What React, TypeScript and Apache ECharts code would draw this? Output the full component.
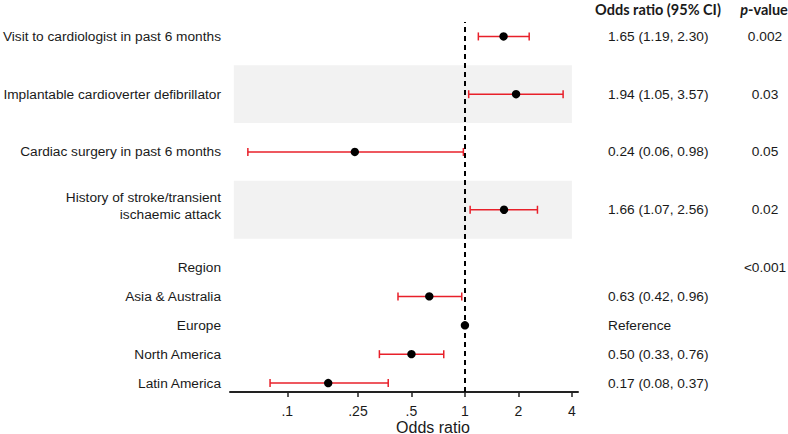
import React, { useEffect, useRef } from "react";
import * as echarts from "echarts";

// ---- data ----
const ROW_LABELS = [
  "Visit to cardiologist in past 6 months",
  "Implantable cardioverter defibrillator",
  "Cardiac surgery in past 6 months",
  "History of stroke/transient\nischaemic attack",
  "Region",
  "Asia & Australia",
  "Europe",
  "North America",
  "Latin America",
];
const ROW_POS = [13, 11, 9, 7, 5, 4, 3, 2, 1];
const ODDS = [1.65, 1.94, 0.24, 1.66, null, 0.63, 1, 0.5, 0.17];
const LOWER = [1.19, 1.05, 0.06, 1.07, null, 0.42, null, 0.33, 0.08];
const UPPER = [2.3, 3.57, 0.98, 2.56, null, 0.96, null, 0.76, 0.37];
const OR_TEXT = [
  "1.65 (1.19, 2.30)",
  "1.94 (1.05, 3.57)",
  "0.24 (0.06, 0.98)",
  "1.66 (1.07, 2.56)",
  "",
  "0.63 (0.42, 0.96)",
  "Reference",
  "0.50 (0.33, 0.76)",
  "0.17 (0.08, 0.37)",
];
const P_TEXT = ["0.002", "0.03", "0.05", "0.02", "<0.001", "", "", "", ""];
const SHADED_ROWS = [1, 3];
const TICK_VALUES = [0.1, 0.25, 0.5, 1, 2, 4];
const TICK_LABELS = [".1", ".25", ".5", "1", "2", "4"];
const X_MIN = 0.0476;
const X_MAX = 4.33;
const BAND_MIN = 0.05;
const BAND_MAX = 4;

const l2 = (v: number) => Math.log2(v);

const FONT = "Liberation Sans";
const HEAD_FONT = "Lato";
const RED = "#e8202a";
const TEXT = "#1a1a1a";

export default function App() {
  const ref = useRef<HTMLDivElement>(null);
  useEffect(() => {
    document.body.style.margin = "0";
    const chart = echarts.init(ref.current!, null, { renderer: "svg" });
    const tickLog = TICK_VALUES.map(l2);

    const txt = (extra: any) => ({
      fontFamily: FONT,
      fontSize: 13.7,
      fill: TEXT,
      verticalAlign: "middle",
      ...extra,
    });

    const option: any = {
      animation: false,
      grid: { left: 230, right: 210, top: 22, bottom: 42 },
      xAxis: {
        type: "value",
        min: l2(X_MIN),
        max: l2(X_MAX),
        splitLine: { show: false },
        axisLine: { show: true, lineStyle: { color: "#222", width: 2 } },
        axisTick: {
          show: true,
          length: 5,
          lineStyle: { color: "#222", width: 1.5 },
          customValues: tickLog,
        },
        axisLabel: {
          customValues: tickLog,
          margin: 12,
          fontSize: 14,
          fontFamily: FONT,
          color: TEXT,
          formatter: (v: number) => {
            let best = 0;
            tickLog.forEach((t, i) => {
              if (Math.abs(t - v) < Math.abs(tickLog[best] - v)) best = i;
            });
            return TICK_LABELS[best];
          },
        },
      },
      yAxis: {
        type: "value",
        min: 0.69,
        max: 13.5,
        show: false,
      },
      graphic: [
        {
          type: "text",
          x: 658,
          y: 9,
          style: {
            text: "Odds ratio (95% CI)",
            fontFamily: HEAD_FONT,
            fontWeight: "bold",
            fontSize: 14.5,
            fill: TEXT,
            align: "center",
            verticalAlign: "middle",
          },
        },
        {
          type: "text",
          x: 764,
          y: 9,
          style: {
            text: "{i|p}{n|-value}",
            align: "center",
            verticalAlign: "middle",
            rich: {
              i: { fontStyle: "italic", fontWeight: "bold", fontSize: 14.5, fontFamily: HEAD_FONT, fill: TEXT },
              n: { fontWeight: "bold", fontSize: 14.5, fontFamily: HEAD_FONT, fill: TEXT },
            },
          },
        },
        {
          type: "text",
          x: 433,
          y: 427,
          style: {
            text: "Odds ratio",
            fontFamily: FONT,
            fontSize: 16,
            fill: TEXT,
            align: "center",
            verticalAlign: "middle",
          },
        },
      ],
      series: [
        {
          type: "line",
          data: [],
          z: 1,
          markArea: {
            silent: true,
            itemStyle: { color: "#f2f2f2" },
            data: SHADED_ROWS.map((i) => [
              { xAxis: l2(BAND_MIN), yAxis: ROW_POS[i] - 1 },
              { xAxis: l2(BAND_MAX), yAxis: ROW_POS[i] + 1 },
            ]),
          },
        },
        {
          type: "line",
          data: [],
          z: 2,
          markLine: {
            silent: true,
            symbol: "none",
            label: { show: false },
            lineStyle: { color: "#000", width: 2, type: [5, 4] },
            data: [{ xAxis: l2(1) }],
          },
        },
        {
          type: "custom",
          z: 3,
          clip: false,
          data: ROW_POS.map((y, i) => [0, y, i]),
          encode: { x: 0, y: 1 },
          renderItem: (params: any, api: any) => {
            const i = api.value(2);
            const y = ROW_POS[i];
            const base = api.coord([0, y]);
            const cy = base[1];
            const children: any[] = [];
            const lo = LOWER[i];
            const hi = UPPER[i];
            if (lo != null && hi != null) {
              const p1 = api.coord([l2(lo), y]);
              const p2 = api.coord([l2(hi), y]);
              const ls = { stroke: RED, lineWidth: 1.5 };
              children.push({ type: "line", shape: { x1: p1[0], y1: cy, x2: p2[0], y2: cy }, style: ls });
              children.push({ type: "line", shape: { x1: p1[0], y1: cy - 4, x2: p1[0], y2: cy + 4 }, style: ls });
              children.push({ type: "line", shape: { x1: p2[0], y1: cy - 4, x2: p2[0], y2: cy + 4 }, style: ls });
            }
            const o = ODDS[i];
            if (o != null) {
              const p = api.coord([l2(o), y]);
              children.push({ type: "circle", shape: { cx: p[0], cy, r: 4.2 }, style: { fill: "#000" } });
            }
            children.push({
              type: "text",
              style: txt({
                text: ROW_LABELS[i],
                x: 221,
                y: ROW_LABELS[i].includes("\n") ? cy - 4 : cy,
                align: "right",
                lineHeight: 17,
              }),
            });
            if (OR_TEXT[i]) {
              children.push({
                type: "text",
                style: txt({ text: OR_TEXT[i], x: 608, y: cy, align: "left" }),
              });
            }
            if (P_TEXT[i]) {
              children.push({
                type: "text",
                style: txt({ text: P_TEXT[i], x: 765, y: cy, align: "center" }),
              });
            }
            return { type: "group", children };
          },
        },
      ],
    };
    chart.setOption(option);
    return () => chart.dispose();
  }, []);
  return <div ref={ref} style={{ width: 788, height: 434 }} />;
}
